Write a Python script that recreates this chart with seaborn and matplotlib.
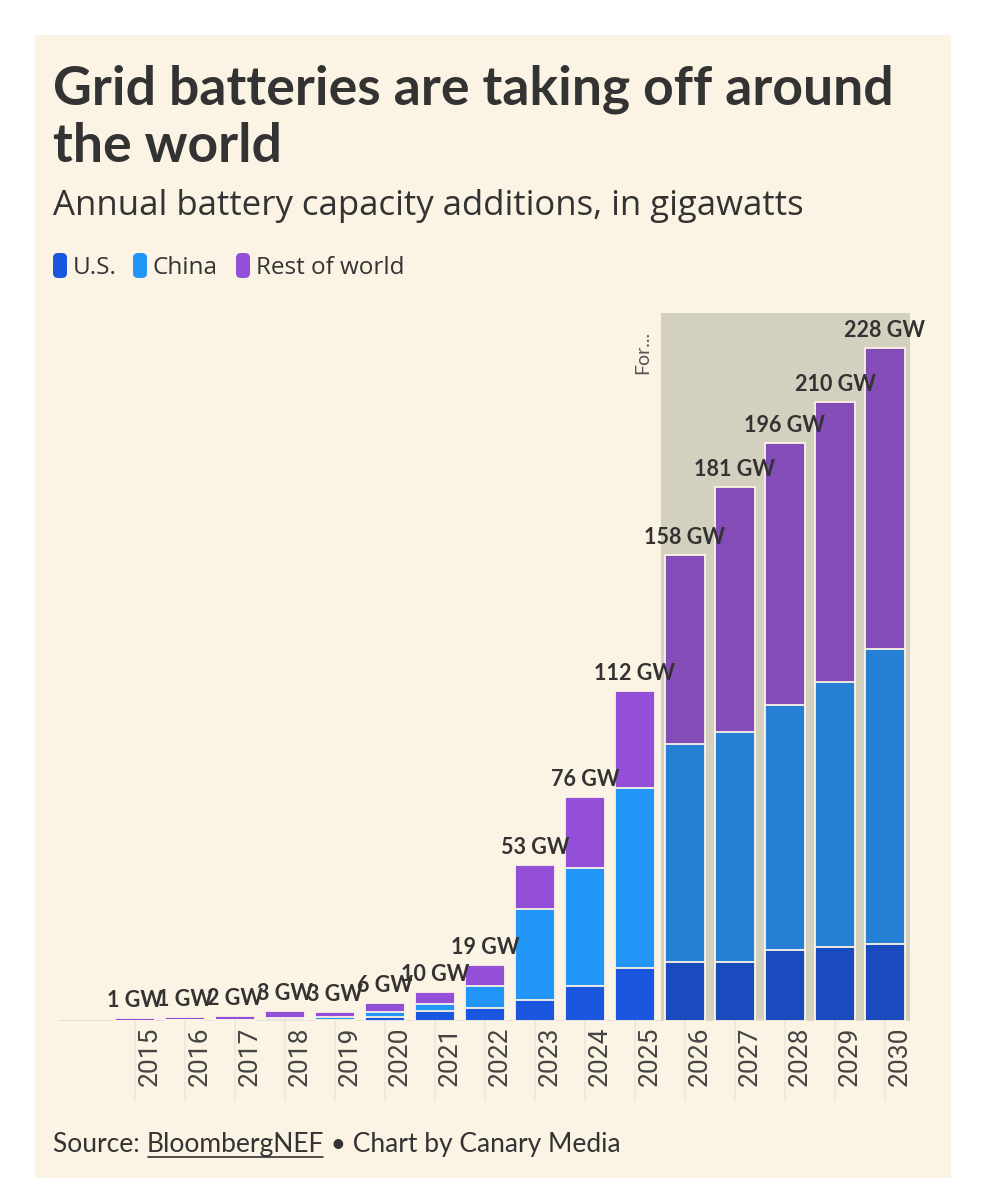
import seaborn as sns
import matplotlib.pyplot as plt
import matplotlib.transforms as mtransforms
from matplotlib.patches import Rectangle, FancyBboxPatch
import pandas as pd

# Данные (ГВт)
years = [str(y) for y in range(2015, 2031)]
us = [0.1, 0.2, 0.3, 0.6, 0.5, 1.3, 3.4, 4.5, 7, 12, 18, 20, 20, 24, 25, 26]
china = [0.05, 0.1, 0.2, 0.5, 0.7, 1.7, 2.4, 7.5, 31, 40, 61, 74, 78, 83, 90, 100]
rest = [0.75, 0.95, 1.2, 2.3, 1.9, 3.0, 4.2, 7, 15, 24, 33, 64, 83, 89, 95, 102]
total_labels = ["1 GW", "1 GW", "2 GW", "3 GW", "3 GW", "6 GW", "10 GW", "19 GW",
                "53 GW", "76 GW", "112 GW", "158 GW", "181 GW", "196 GW", "210 GW", "228 GW"]
first_forecast = "2026"

df = pd.DataFrame({"year": years, "us": us, "china": china, "rest": rest})
df["us_china"] = df["us"] + df["china"]
df["total"] = df["us_china"] + df["rest"]
forecast = df["year"] >= first_forecast

# Цвета: история / прогноз
panel = "#FBF3E3"
us_col = ["#1A4BBE" if f else "#1B56DF" for f in forecast]
china_col = ["#2680D5" if f else "#2196F6" for f in forecast]
rest_col = ["#834CB7" if f else "#934FD8" for f in forecast]
ink = "#333333"

sns.set_theme(style="white")
plt.rcParams["font.family"] = ["Lato", "DejaVu Sans"]

W, H = 986, 1200
fig = plt.figure(figsize=(W / 100, H / 100), dpi=100, facecolor="white")

# Фоновый слой в пикселях
bg = fig.add_axes([0, 0, 1, 1], zorder=-1)
bg.set_xlim(0, W)
bg.set_ylim(H, 0)
bg.axis("off")
bg.add_patch(Rectangle((35, 35), 916, 1143, color=panel, lw=0))

bg.text(53, 104, "Grid batteries are taking off around", fontsize=38.5,
        fontweight="bold", color=ink, va="baseline")
bg.text(53, 162, "the world", fontsize=38.5, fontweight="bold", color=ink, va="baseline")
bg.text(53, 215, "Annual battery capacity additions, in gigawatts", fontsize=25,
        color=ink, va="baseline", family=["Open Sans", "DejaVu Sans"])

# Легенда
legend_items = [("U.S.", us_col[0], 53), ("China", china_col[0], 133), ("Rest of world", rest_col[0], 236)]
for name, col, x0 in legend_items:
    bg.add_patch(FancyBboxPatch((x0, 253), 14, 25, boxstyle="round,pad=0,rounding_size=5",
                                color=col, lw=0))
    bg.text(x0 + 20, 274, name, fontsize=17.5, color=ink, va="baseline",
            family=["Open Sans", "DejaVu Sans"])

# Подпись источника
src_font = dict(fontsize=19, color=ink)
t1 = bg.text(53, 1152, "Source: ", va="baseline", **src_font)
t2 = bg.annotate("BloombergNEF", xy=(1, 0), xycoords=t1, va="bottom", **src_font)
t3 = bg.annotate(" \u2022 Chart by Canary Media", xy=(1, 0), xycoords=t2, va="bottom", **src_font)

# Основные оси
left, right, base, top = 58, 910, 1021, 313
ax = fig.add_axes([left / W, 1 - base / H, (right - left) / W, (base - top) / H])
ax.set_facecolor("none")

ax.axvspan(10.52, 15.5, color="#D4D0C0", lw=0, zorder=0)

bar_kw = dict(x="year", legend=False, ax=ax, saturation=1, width=0.8,
              edgecolor=panel, linewidth=1.3, zorder=2)
sns.barplot(data=df, y="total", hue="year", palette=rest_col, **bar_kw)
sns.barplot(data=df, y="us_china", hue="year", palette=china_col, **bar_kw)
sns.barplot(data=df, y="us", hue="year", palette=us_col, **bar_kw)

for i, (t, lab) in enumerate(zip(df["total"], total_labels)):
    ax.annotate(lab, (i, t), xytext=(0, 5), textcoords="offset points", ha="center",
                va="bottom", fontsize=15.5, fontweight="bold", color=ink, zorder=5)

ax.text(10.16, 0.975, "For...", transform=mtransforms.blended_transform_factory(ax.transData, ax.transAxes),
        rotation=90, ha="center", va="top", fontsize=14, color="#555555")

ax.set_xlim(-1.54, 15.5)
ax.set_ylim(0, 240)
ax.axhline(0, color="#E4DED0", lw=2, zorder=1)
blend = mtransforms.blended_transform_factory(ax.transData, ax.transAxes)
for i in range(len(years)):
    ax.plot([i, i], [0, -0.113], transform=blend, color="#EEE8DA", lw=1.2, clip_on=False, zorder=0)

sns.despine(ax=ax, left=True, bottom=True)
ax.set_xlabel("")
ax.set_ylabel("")
ax.set_yticks([])
ax.set_xticks(range(len(years)))
ax.set_xticklabels(years, rotation=90, fontsize=19, color="#444444", family=["Roboto", "DejaVu Sans"])
ax.tick_params(axis="x", length=0, pad=4)
shift = mtransforms.ScaledTranslation(0.15, 0, fig.dpi_scale_trans)
for lab in ax.get_xticklabels():
    lab.set_transform(lab.get_transform() + shift)

# Подчёркивание BloombergNEF
fig.canvas.draw()
bb = t2.get_window_extent().transformed(bg.transData.inverted())
bg.plot([bb.x0 + 1, bb.x1 - 1], [1157, 1157], color=ink, lw=1.2)

fig.savefig("out.png", dpi=100, facecolor="white")
